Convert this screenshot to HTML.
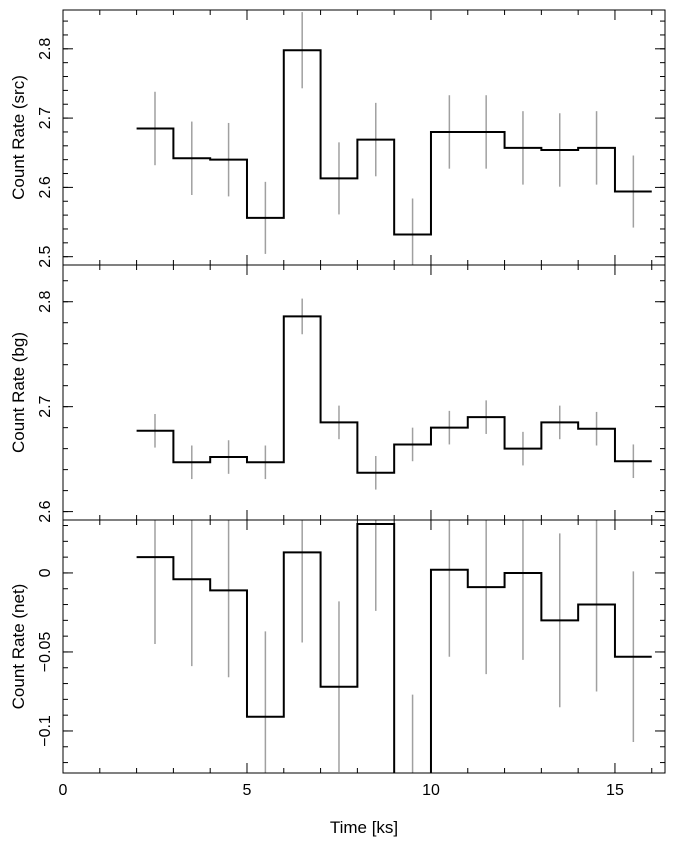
<!DOCTYPE html>
<html><head><meta charset="utf-8"><style>
body{margin:0;background:#fff;}
svg{display:block;font-family:"Liberation Sans",sans-serif;}
</style></head><body>
<svg id="c" width="676" height="846"></svg>
<script>
const binStarts=[2,3,4,5,6,7,8,9,10,11,12,13,14,15];
const srcVals=[2.685,2.642,2.640,2.556,2.798,2.613,2.669,2.532,2.680,2.680,2.657,2.654,2.657,2.594];
const srcErr=[0.053,0.053,0.053,0.052,0.055,0.052,0.053,0.052,0.053,0.053,0.053,0.053,0.053,0.052];
const bgVals=[2.677,2.647,2.652,2.647,2.786,2.685,2.637,2.664,2.680,2.690,2.660,2.685,2.679,2.648];
const bgErr=[0.016,0.016,0.016,0.016,0.017,0.016,0.016,0.016,0.016,0.016,0.016,0.016,0.016,0.016];
const netVals=[0.010,-0.004,-0.011,-0.091,0.013,-0.072,0.031,-0.131,0.002,-0.009,0.000,-0.030,-0.020,-0.053];
const netErr=[0.055,0.055,0.055,0.054,0.057,0.054,0.055,0.054,0.055,0.055,0.055,0.055,0.055,0.054];
const xTicks=[0,5,10,15];
const srcTicks=[2.5,2.6,2.7,2.8];
const bgTicks=[2.6,2.7,2.8];
const netTicks=[-0.1,-0.05,0];
const srcTickLabels=["2.5","2.6","2.7","2.8"];
const bgTickLabels=["2.6","2.7","2.8"];
const netTickLabels=["−0.1","−0.05","0"];

const NS="http://www.w3.org/2000/svg";
const svg=document.getElementById('c');
const X0=63,X1=665,xmin=0,xmax=16.36;
const xs=v=>X0+(v-xmin)/(xmax-xmin)*(X1-X0);
function el(t,a,p){const e=document.createElementNS(NS,t);for(const k in a)e.setAttribute(k,a[k]);(p||svg).appendChild(e);return e;}

const panels=[
 {name:'src',top:10,bot:265,ymin:2.488,ymax:2.856,vals:srcVals,err:srcErr,ticks:srcTicks,labels:srcTickLabels,minor:0.02,title:'Count Rate (src)'},
 {name:'bg',top:265,bot:520,ymin:2.592,ymax:2.835,vals:bgVals,err:bgErr,ticks:bgTicks,labels:bgTickLabels,minor:0.02,title:'Count Rate (bg)'},
 {name:'net',top:520,bot:773,ymin:-0.1266,ymax:0.0335,vals:netVals,err:netErr,ticks:netTicks,labels:netTickLabels,minor:0.01,title:'Count Rate (net)'}
];
panels.forEach((p,pi)=>{
 const ys=v=>p.bot-(v-p.ymin)/(p.ymax-p.ymin)*(p.bot-p.top);
 const g=el('g',{});
 
 
 const cp=el('clipPath',{id:'cp'+pi},g);
 el('rect',{x:X0,y:p.top,width:X1-X0,height:p.bot-p.top},cp);
 const dg=el('g',{'clip-path':'url(#cp'+pi+')'},g);
 // error bars
 binStarts.forEach((b,i)=>{
  const e=el('line',{x1:xs(b+0.5),x2:xs(b+0.5),y1:ys(p.vals[i]+p.err[i]),y2:ys(p.vals[i]-p.err[i]),stroke:'#a0a0a0','stroke-width':1.5},dg);
  
  
 });
 // step line
 let d='';
 binStarts.forEach((b,i)=>{
  const y=ys(p.vals[i]);
  d+=(i===0?'M':'L')+xs(b)+','+y+'L'+xs(b+1)+','+y;
 });
 const path=el('path',{d:d,fill:'none',stroke:'#000','stroke-width':2},dg);
 
 
 // frame
 el('rect',{x:X0,y:p.top,width:X1-X0,height:p.bot-p.top,fill:'none',stroke:'#000','stroke-width':1},g);
 // x ticks
 for(let v=0;v<=16;v++){
  const L=(v%5===0)?10:5;
  el('line',{x1:xs(v),x2:xs(v),y1:p.bot,y2:p.bot-L,stroke:'#000'},g);
  el('line',{x1:xs(v),x2:xs(v),y1:p.top,y2:p.top+L,stroke:'#000'},g);
 }
 // y minor
 const start=Math.ceil(p.ymin/p.minor-1e-6);
 for(let k=start;k*p.minor<=p.ymax+1e-9;k++){
  const y=ys(k*p.minor);
  el('line',{x1:X0,x2:X0+5,y1:y,y2:y,stroke:'#000'},g);
  el('line',{x1:X1,x2:X1-5,y1:y,y2:y,stroke:'#000'},g);
 }
 p.ticks.forEach((v,i)=>{
  const y=ys(v);
  el('line',{x1:X0,x2:X0+10,y1:y,y2:y,stroke:'#000'},g);
  el('line',{x1:X1,x2:X1-10,y1:y,y2:y,stroke:'#000'},g);
  const t=el('text',{x:50,y:y,'font-size':16,'text-anchor':'middle',transform:'rotate(-90 50 '+y+')'},g);
  t.textContent=p.labels[i];
  
  
 });
 const cy=(p.top+p.bot)/2;
 const tt=el('text',{x:24,y:cy,'font-size':17,'text-anchor':'middle',transform:'rotate(-90 24 '+cy+')'},g);
 tt.textContent=p.title;
 
 
});
xTicks.forEach(v=>{
 const t=el('text',{x:xs(v),y:795,'font-size':16,'text-anchor':'middle'});
 t.textContent=String(v);
 
 
});
const xt=el('text',{x:364,y:833,'font-size':17,'text-anchor':'middle'});
xt.textContent='Time [ks]';


</script>
</body></html>
